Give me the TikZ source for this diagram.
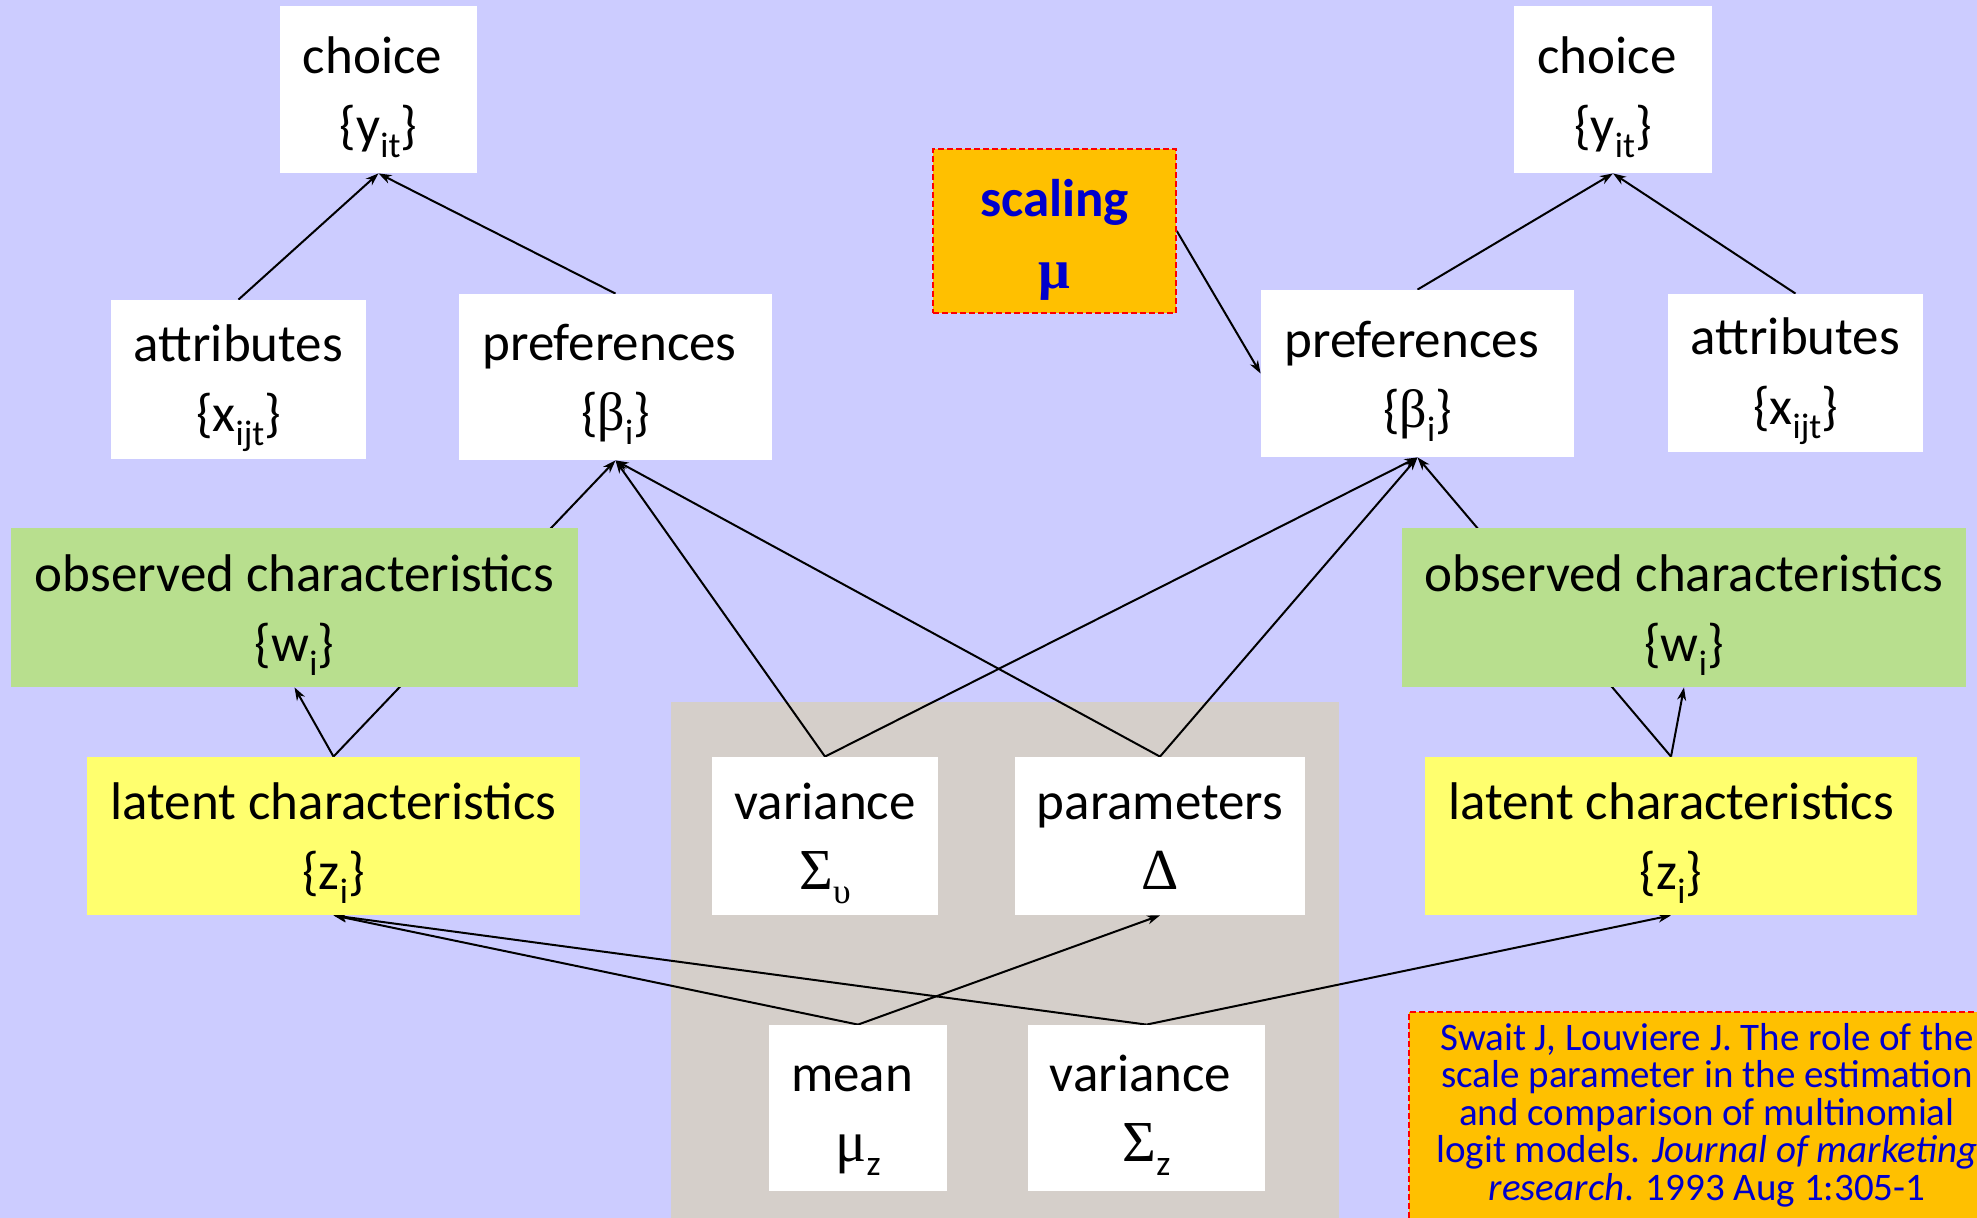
\documentclass[tikz,border=0pt]{standalone}
\usepackage{fontspec}
\setmainfont{Carlito}
\newfontfamily\grk{Liberation Serif}
\usetikzlibrary{arrows.meta}
\pgfdeclarelayer{bg}
\pgfdeclarelayer{lines}
\pgfsetlayers{bg,lines,main}
\definecolor{lav}{RGB}{204,204,255}
\definecolor{greyreg}{RGB}{213,207,202}
\definecolor{grn}{RGB}{184,223,142}
\definecolor{ylw}{RGB}{255,255,110}
\definecolor{org}{RGB}{255,192,0}
\definecolor{txtblue}{RGB}{0,0,204}
\newcommand{\lsub}[1]{\raisebox{-0.26em}{\fontsize{17.8}{17.8}\selectfont #1}}
\newcommand{\gcap}[1]{{\grk\fontsize{29}{29}\selectfont #1}}
\newcommand{\glow}[2]{{\grk\fontsize{#1}{#1}\selectfont #2}}
\newcommand{\bxs}{\rule[-8pt]{0pt}{34.9pt}}
\newcommand{\bxsc}{\rule[-7.2pt]{0pt}{35.9pt}}
\newcommand{\tsp}{\hspace*{6pt}}
\begin{document}
\begin{tikzpicture}[x=0.5pt,y=-0.5pt,
  box/.style={rectangle, inner sep=0pt, align=center, font=\fontsize{26.5}{35}\selectfont, text=black},
  wbox/.style={box, fill=white},
  gbox/.style={box, fill=grn},
  ybox/.style={box, fill=ylw},
  conn/.style={line width=1pt, -{Stealth[length=6.5pt,width=4.5pt,inset=2pt]}}]
\useasboundingbox (0,0) rectangle (1977,1218);
\clip (0,0) rectangle (1977,1218);
\begin{pgfonlayer}{bg}
\fill[lav] (0,0) rectangle (1977,1218);
\fill[greyreg] (671,702) rectangle (1339,1230);
\end{pgfonlayer}

% top row
\node[wbox, minimum width=98.5pt, minimum height=83.5pt] (choiceL) at (378.5,89.5) {\bxs choice\tsp\\\bxs\{y\lsub{it}\}};
\node[wbox, minimum width=99pt, minimum height=83.5pt] (choiceR) at (1613,89.5) {\bxs choice\tsp\\\bxs\{y\lsub{it}\}};
\node[box, fill=org, draw=red, dashed, dash pattern=on 3pt off 1.5pt, line width=0.8pt,
  minimum width=121.5pt, minimum height=82pt, text=txtblue, font=\fontsize{26.5}{36}\selectfont\bfseries]
  (scaling) at (1054.5,231) {\bxsc scaling\\\bxsc\glow{28}{μ}};

% second row
\node[wbox, minimum width=127.5pt, minimum height=79.5pt] (attrL) at (238.5,379.5) {\bxs attributes\\\bxs\{x\lsub{ijt}\}};
\node[wbox, minimum width=156.5pt, minimum height=83pt] (prefL) at (615.5,377) {\bxs preferences\tsp\\\bxs\{\glow{27}{β}\lsub{i}\}};
\node[wbox, minimum width=156.5pt, minimum height=83.5pt] (prefR) at (1417.5,373.5) {\bxs preferences\tsp\\\bxs\{\glow{27}{β}\lsub{i}\}};
\node[wbox, minimum width=127.5pt, minimum height=79pt] (attrR) at (1795.5,373) {\bxs attributes\\\bxs\{x\lsub{ijt}\}};

% observed
\node[gbox, minimum width=283.5pt, minimum height=79.5pt] (obsL) at (294.5,607.5) {\bxs observed characteristics\\\bxs\{w\lsub{i}\}};
\node[gbox, minimum width=282pt, minimum height=79.5pt] (obsR) at (1684,607.5) {\bxs observed characteristics\\\bxs\{w\lsub{i}\}};

% latent row
\node[ybox, minimum width=246.5pt, minimum height=79pt] (latL) at (333.5,836) {\bxs latent characteristics\\\bxs\{z\lsub{i}\}};
\node[ybox, minimum width=246pt, minimum height=79pt] (latR) at (1671,836) {\bxs latent characteristics\\\bxs\{z\lsub{i}\}};
\node[wbox, minimum width=113pt, minimum height=79pt] (varU) at (825,836) {\bxs variance\\\bxs\gcap{Σ}\lsub{\grk υ}};
\node[wbox, minimum width=145pt, minimum height=79pt] (params) at (1160,836) {\bxs parameters\\\bxs\gcap{Δ}};

% bottom row
\node[wbox, minimum width=89pt, minimum height=83pt] (mean) at (858,1108) {\bxs mean\tsp\\\bxs\glow{29}{μ}\lsub{z}};
\node[wbox, minimum width=118.5pt, minimum height=83pt] (varZ) at (1146.5,1108) {\bxs variance\tsp\\\bxs\gcap{Σ}\lsub{z}};

% reference
\node[rectangle, anchor=north west, fill=org, draw=red, dashed, dash pattern=on 3pt off 1.5pt, line width=0.8pt,
  minimum width=299pt, minimum height=112pt, inner sep=0pt] (ref) at (1408,1011) {};
\node[align=center, inner sep=0pt, text=txtblue, font=\fontsize{19.5}{18.75}\selectfont] (reftext) at (1707,1115)
  {Swait J, Louviere J. The role of the\\scale parameter in the estimation\\and comparison of multinomial\\logit models. \textit{Journal of marketing}\\\textit{research}. 1993 Aug 1:305-1};

\begin{pgfonlayer}{lines}
\draw[conn] (attrL.north) -- (choiceL.south);
\draw[conn] (prefL.north) -- (choiceL.south);
\draw[conn] (prefR.north) -- (choiceR.south);
\draw[conn] (attrR.north) -- (choiceR.south);
\draw[conn] (scaling.east) -- (prefR.west);
\draw[conn] (latL.north) -- (prefL.south);
\draw[conn] (latL.north) -- (obsL.south);
\draw[conn] (latR.north) -- (prefR.south);
\draw[conn] (latR.north) -- (obsR.south);
\draw[conn] (varU.north) -- (prefL.south);
\draw[conn] (varU.north) -- (prefR.south);
\draw[conn] (params.north) -- (prefL.south);
\draw[conn] (params.north) -- (prefR.south);
\draw[conn] (mean.north) -- (latL.south);
\draw[conn] (mean.north) -- (params.south);
\draw[conn] (varZ.north) -- (latL.south);
\draw[conn] (varZ.north) -- (latR.south);
\end{pgfonlayer}
\end{tikzpicture}
\end{document}
